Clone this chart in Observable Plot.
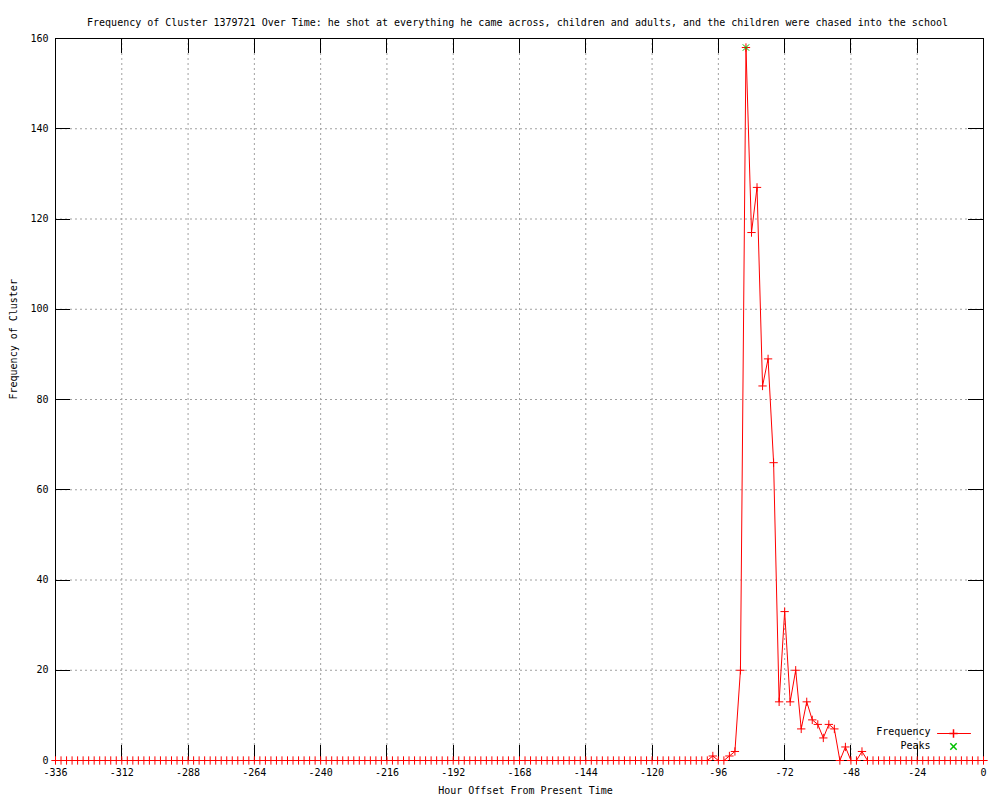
<!DOCTYPE html>
<html><head><meta charset="utf-8">
<script src="https://cdn.jsdelivr.net/npm/d3@7"></script>
<script src="https://cdn.jsdelivr.net/npm/@observablehq/plot@0.6"></script>
<style>body{margin:0;background:#fff} svg{display:block}</style>
</head><body><div id="chart"></div>
<script>
const titleText = "Frequency of Cluster 1379721 Over Time: he shot at everything he came across, children and adults, and the children were chased into the school";
const xLabel = "Hour Offset From Present Time";
const yLabel = "Frequency of Cluster";
const legendLabels = ["Frequency", "Peaks"];

// hour offsets, one bin every 2 hours from -336 to 0
const hours = d3.range(-336, 1, 2);
const frequency = [
  0,0,0,0,0,0,0,0,0,0, 0,0,0,0,0,0,0,0,0,0,
  0,0,0,0,0,0,0,0,0,0, 0,0,0,0,0,0,0,0,0,0,
  0,0,0,0,0,0,0,0,0,0, 0,0,0,0,0,0,0,0,0,0,
  0,0,0,0,0,0,0,0,0,0, 0,0,0,0,0,0,0,0,0,0,
  0,0,0,0,0,0,0,0,0,0, 0,0,0,0,0,0,0,0,0,0,
  0,0,0,0,0,0,0,0,0,0, 0,0,0,0,0,0,0,0,0,
  1,0,0,1,2,20,158,117,127,83,89,66,13,33,13,20,7,13,9,8,5,8,7,0,3,0,0,2,
  0,0,0,0,0,0,0,0,0,0, 0,0,0,0,0,0,0,0,0,0,0,0
];
const peakHours = [-86];
const peakValues = [158];
const xTicks = [-336,-312,-288,-264,-240,-216,-192,-168,-144,-120,-96,-72,-48,-24,0];
const yTicks = [0,20,40,60,80,100,120,140,160];

const data = hours.map((h, i) => ({hour: h, freq: frequency[i]}));
const peaks = peakHours.map((h, i) => ({hour: h, freq: peakValues[i]}));

const W = 1000, H = 800, mL = 55, mR = 17, mT = 38, mB = 40;
const frameW = W - mL - mR, frameH = H - mT - mB, tickLen = 15;

const font = "'DejaVu Sans Mono', monospace";
const red = "#ff0000";
const green = "#00c000";
const gridStyle = {stroke: "#a0a0a0", strokeOpacity: 1, strokeDasharray: "2,3"};
const shapeRight = {draw(c, l) { c.moveTo(0, 0); c.lineTo(l, 0); }};
const tickStyle = {stroke: "#000", strokeOpacity: 1, strokeWidth: 1, shapeRendering: "crispEdges"};

const chart = Plot.plot({
  width: W, height: H,
  marginLeft: mL, marginRight: mR, marginTop: mT, marginBottom: mB,
  style: {fontFamily: font, fontSize: "10px", background: "#fff", color: "#000"},
  x: {domain: [-336, 0], label: null},
  y: {domain: [0, 160], label: null},
  marks: [
    Plot.gridX(xTicks.filter(t => t > -336 && t < 0), gridStyle),
    Plot.gridY(yTicks.filter(t => t > 0 && t < 160), gridStyle),
    Plot.axisX({anchor: "bottom", ticks: xTicks, tickSize: 0, tickPadding: 8, tickFormat: d => String(d), label: null}),
    Plot.axisY({anchor: "left", ticks: yTicks, tickSize: 0, tickPadding: 7, tickFormat: d => String(d), label: null}),
    Plot.tickX(xTicks, {x: d => d, insetTop: frameH - tickLen, ...tickStyle}),
    Plot.tickX(xTicks, {x: d => d, insetBottom: frameH - tickLen, ...tickStyle}),
    Plot.tickY(yTicks, {y: d => d, insetRight: frameW - tickLen, ...tickStyle}),
    Plot.tickY(yTicks, {y: d => d, insetLeft: frameW - tickLen, ...tickStyle}),
    Plot.frame({stroke: "#000", shapeRendering: "crispEdges"}),
    Plot.line(data, {x: "hour", y: "freq", stroke: red, strokeWidth: 1}),
    Plot.dot(data, {x: "hour", y: "freq", symbol: "plus", stroke: red, r: 2.8, strokeWidth: 1}),
    Plot.dot(peaks, {x: "hour", y: "freq", symbol: "times", stroke: green, r: 3, strokeWidth: 1}),
    Plot.text([titleText], {text: d => d, frameAnchor: "top", dy: -20, dx: -2, fontSize: 10}),
    Plot.text([yLabel], {text: d => d, frameAnchor: "left", dx: -42, rotate: -90, fontSize: 10}),
    Plot.text([xLabel], {text: d => d, frameAnchor: "bottom", dy: 33, dx: 6, fontSize: 10}),
    // legend
    Plot.text([legendLabels[0]], {text: d => d, frameAnchor: "bottom-right", dx: -53, dy: -26, textAnchor: "end", fontSize: 10}),
    Plot.text([legendLabels[1]], {text: d => d, frameAnchor: "bottom-right", dx: -53, dy: -12, textAnchor: "end", fontSize: 10}),
    Plot.vector([0], {frameAnchor: "bottom-right", dx: -46, dy: -27, length: 33, anchor: "start", shape: shapeRight, stroke: red, strokeWidth: 1}),
    Plot.dot([0], {frameAnchor: "bottom-right", dx: -30, dy: -27, symbol: "plus", stroke: red, r: 2.8}),
    Plot.dot([0], {frameAnchor: "bottom-right", dx: -30, dy: -14, symbol: "times", stroke: green, r: 3})
  ]
});
document.getElementById("chart").appendChild(chart);
</script>
</body></html>
